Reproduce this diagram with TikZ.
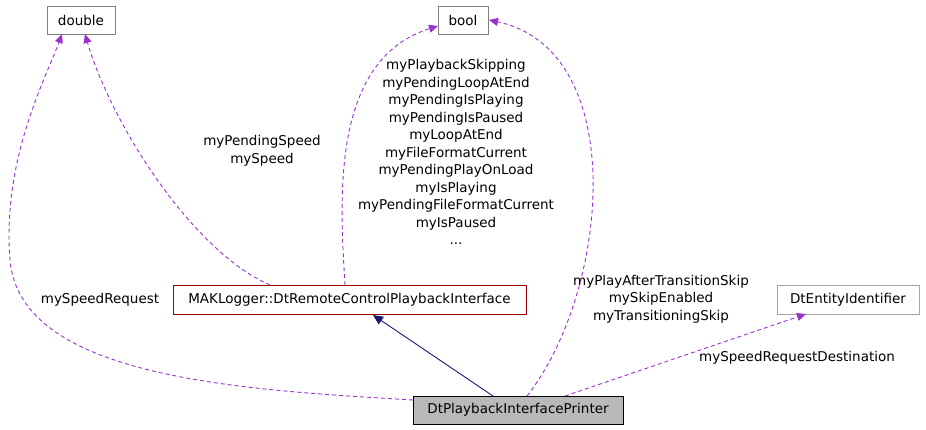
\documentclass[tikz,border=0pt]{standalone}
\usepackage{fontspec}
\setmainfont{DejaVu Sans}
\usetikzlibrary{arrows.meta}
\definecolor{dorch}{HTML}{9A32CD}
\definecolor{mnavy}{HTML}{191970}
\begin{document}
\begin{tikzpicture}[x=1pt,y=-1pt,
 box/.style={draw=#1,line width=0.8pt,inner sep=0pt,font=\fontsize{13.5}{15}\selectfont},
 dep/.style={draw=dorch,dash pattern=on 4pt off 3pt,line width=0.9pt,-{Triangle[length=9pt,width=8pt,fill=dorch]}},
 lab/.style={font=\fontsize{13.5}{17.5}\selectfont,align=center,inner sep=0pt},
 inh/.style={draw=mnavy,line width=0.9pt,-{Triangle[length=10pt,width=9pt,fill=mnavy]}}]
\useasboundingbox (0,0) rectangle (926,429);
\node[box=gray,minimum width=68pt,minimum height=28pt] (dbl) at (81,20) {double};
\node[box=gray,minimum width=50pt,minimum height=28pt] (bool) at (463,20) {bool};
\node[box=red!60!black,minimum width=353pt,minimum height=29pt] (mak) at (349.5,299.5) {MAKLogger::DtRemoteControlPlaybackInterface};
\node[box=gray!70,minimum width=142pt,minimum height=29pt] (ent) at (848,299.5) {DtEntityIdentifier};
\node[box=black,fill=gray!55,minimum width=210pt,minimum height=28pt] (pr) at (518,410) {DtPlaybackInterfacePrinter};
\coordinate (mkd) at (270,285);
\coordinate (mkb) at (345,285);
\draw[inh] (493,396) -- (373,315);
\draw[dep] (mkd) .. controls (190,250) and (110,120) .. (85,34);
\draw[dep] (413,400) .. controls (250,390) and (20,380) .. (10,260) .. controls (2,160) and (45,80) .. (62,34);
\draw[dep] (mkb) .. controls (340,200) and (330,60) .. (438,26);
\draw[dep] (527,396) .. controls (610,290) and (630,50) .. (489,20);
\draw[dep] (565,396) -- (806,314);
\node[lab] at (262,151) {myPendingSpeed\\mySpeed};
\node[lab] at (100,300) {mySpeedRequest};
\node[lab] at (456,152) {myPlaybackSkipping\\myPendingLoopAtEnd\\myPendingIsPlaying\\myPendingIsPaused\\myLoopAtEnd\\myFileFormatCurrent\\myPendingPlayOnLoad\\myIsPlaying\\myPendingFileFormatCurrent\\myIsPaused\\...};
\node[lab] at (661,299) {myPlayAfterTransitionSkip\\mySkipEnabled\\myTransitioningSkip};
\node[lab] at (797,358) {mySpeedRequestDestination};
\end{tikzpicture}
\end{document}
